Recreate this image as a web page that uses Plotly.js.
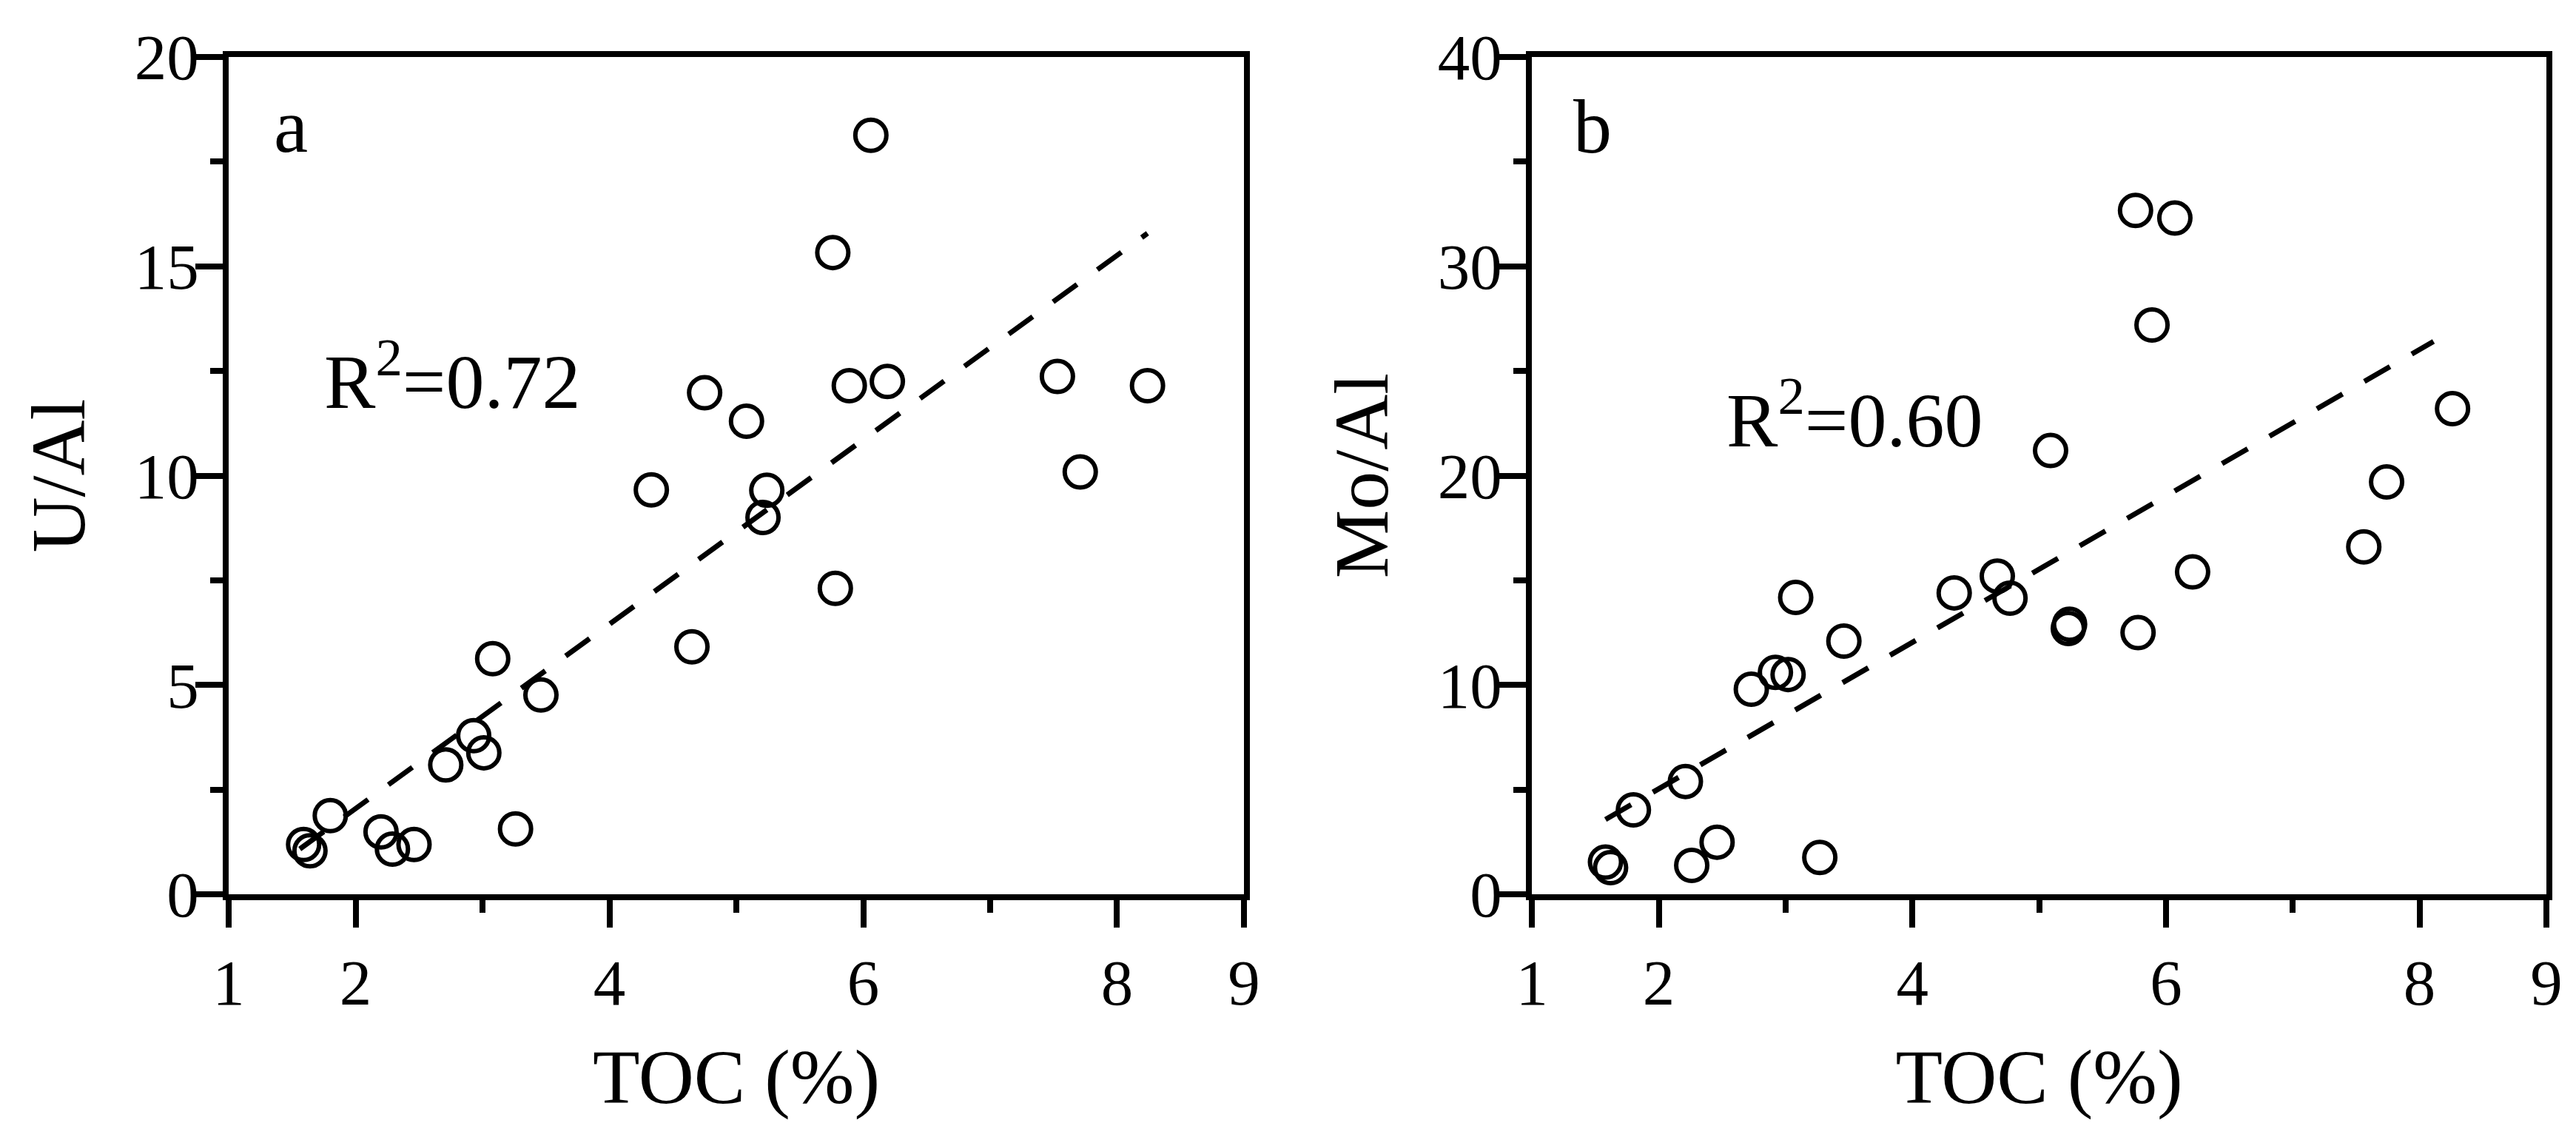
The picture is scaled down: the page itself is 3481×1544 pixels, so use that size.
<!DOCTYPE html>
<html>
<head>
<meta charset="utf-8">
<script src="https://cdn.plot.ly/plotly-3.0.1.min.js"></script>
<style>
  html, body { margin: 0; padding: 0; background: #fff; }
  #chart { width: 3481px; height: 1544px; }
</style>
</head>
<body>
<div id="chart"></div>
<script>
// panel a: U/Al vs TOC
const tocA = [6.06, 5.76, 4.75, 5.08, 5.89, 6.19, 7.53, 8.24, 7.71, 4.33, 5.24, 5.21, 5.78,
              4.65, 3.08, 3.46, 2.93, 3.01, 2.71, 3.26, 1.80, 2.20, 2.29, 2.46, 1.59, 1.64];
const uAl  = [18.13, 15.33, 11.98, 11.30, 12.15, 12.25, 12.37, 12.15, 10.09, 9.66, 9.65, 9.00, 7.31,
              5.91, 5.63, 4.76, 3.79, 3.38, 3.09, 1.56, 1.88, 1.49, 1.08, 1.19, 1.19, 1.04];
const fitAx = [1.56, 8.24];
const fitAy = [1.08, 15.79];

// panel b: Mo/Al vs TOC
const tocB = [5.76, 6.07, 5.89, 5.09, 8.26, 7.74, 7.56, 6.21, 4.67, 4.33, 4.77, 3.08, 5.24,
              5.23, 5.78, 3.46, 2.92, 3.02, 2.73, 2.21, 1.80, 2.46, 3.27, 2.26, 1.58, 1.62];
const moAl = [32.67, 32.31, 27.2, 21.2, 23.2, 19.7, 16.6, 15.4, 15.2, 14.4, 14.15, 14.18, 12.9,
              12.7, 12.5, 12.1, 10.6, 10.5, 9.8, 5.39, 4.03, 2.49, 1.76, 1.38, 1.54, 1.27];
const fitBx = [1.58, 8.11];
const fitBy = [3.57, 26.41];

const xTicks = [1, 2, 4, 6, 8, 9];
const xMinor = [3, 5, 7];

const font = 'Liberation Serif, Times New Roman, serif';

function pointTrace(xs, ys, xa, ya) {
    return {
        x: xs, y: ys, xaxis: xa, yaxis: ya,
        mode: 'markers', type: 'scatter',
        marker: {symbol: 'circle-open', size: 42, color: '#000', line: {width: 6, color: '#000'}},
        showlegend: false, hoverinfo: 'skip'
    };
}

function fitTrace(xs, ys, xa, ya) {
    return {
        x: xs, y: ys, xaxis: xa, yaxis: ya,
        mode: 'lines', type: 'scatter',
        line: {color: '#000', width: 7, dash: '40px,34px'},
        showlegend: false, hoverinfo: 'skip'
    };
}

function xAxis(domain, anchor) {
    return {
        domain: domain, anchor: anchor, range: [1, 9],
        tickmode: 'array', tickvals: xTicks,
        minor: {tickmode: 'array', tickvals: xMinor, ticks: 'outside', ticklen: 17, tickwidth: 8, tickcolor: '#000'},
        ticks: 'outside', ticklen: 37, tickwidth: 8, tickcolor: '#000',
        showline: true, linewidth: 8, linecolor: '#000', mirror: true,
        showgrid: false, zeroline: false,
        tickfont: {family: font, size: 87, color: '#000'},
        title: {text: 'TOC (%)', font: {family: font, size: 104, color: '#000'}, standoff: 45}
    };
}

function yAxis(max, step, title, anchor) {
    return {
        domain: [0.2176, 0.9501], anchor: anchor, range: [0, max],
        tickmode: 'linear', tick0: 0, dtick: step,
        minor: {dtick: step / 2, ticks: 'outside', ticklen: 17, tickwidth: 8, tickcolor: '#000'},
        ticks: 'outside', ticklen: 37, tickwidth: 8, tickcolor: '#000',
        showline: true, linewidth: 8, linecolor: '#000', mirror: true,
        showgrid: false, zeroline: false,
        ticklabelstandoff: -22,
        tickfont: {family: font, size: 87, color: '#000'},
        title: {text: title, font: {family: font, size: 104, color: '#000'}, standoff: 35}
    };
}

const data = [
    fitTrace(fitAx, fitAy, 'x', 'y'),
    pointTrace(tocA, uAl, 'x', 'y'),
    fitTrace(fitBx, fitBy, 'x2', 'y2'),
    pointTrace(tocB, moAl, 'x2', 'y2')
];

const layout = {
    width: 3481, height: 1544,
    margin: {l: 0, r: 0, t: 0, b: 0},
    paper_bgcolor: '#fff', plot_bgcolor: '#fff',
    font: {family: font, color: '#000'},
    xaxis: xAxis([0.0888, 0.4829], 'y'),
    yaxis: yAxis(20, 5, 'U/Al', 'x'),
    xaxis2: xAxis([0.5947, 0.9885], 'y2'),
    yaxis2: yAxis(40, 10, 'Mo/Al', 'x2'),
    annotations: [
        {text: 'a', x: 1.49, y: 18.37, xref: 'x', yref: 'y', showarrow: false,
         font: {family: font, size: 104, color: '#000'}},
        {text: 'R<sup>2</sup>=0.72', x: 1.74, y: 12.39, xref: 'x', yref: 'y', showarrow: false,
         xanchor: 'left', font: {family: font, size: 104, color: '#000'}},
        {text: 'b', x: 1.48, y: 36.7, xref: 'x2', yref: 'y2', showarrow: false,
         font: {family: font, size: 104, color: '#000'}},
        {text: 'R<sup>2</sup>=0.60', x: 2.52, y: 22.93, xref: 'x2', yref: 'y2', showarrow: false,
         xanchor: 'left', font: {family: font, size: 104, color: '#000'}}
    ]
};

Plotly.newPlot('chart', data, layout, {displayModeBar: false, staticPlot: true});
</script>
</body>
</html>
